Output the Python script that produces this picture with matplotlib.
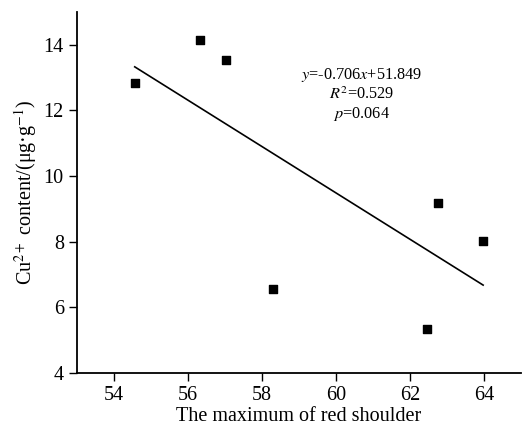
import matplotlib.pyplot as plt
import numpy as np

# data
red_shoulder = [54.56, 56.32, 57.02, 58.29, 62.47, 62.76, 63.98]
cu_content = [12.83, 14.15, 13.54, 6.55, 5.33, 9.18, 8.03]
slope, intercept = -0.706, 51.849
fit_lines = [r'$y$=-0.706$x$+51.849', r'$R^2$=0.529', r'$p$=0.064']
x_ticks = [54, 56, 58, 60, 62, 64]
y_ticks = [4, 6, 8, 10, 12, 14]

plt.rcParams['font.family'] = ['Liberation Serif', 'DejaVu Serif']
plt.rcParams['mathtext.fontset'] = 'stix'

fig = plt.figure(figsize=(5.24, 4.29), dpi=100)
ax = fig.add_axes([0.147, 0.1305, 0.847, 0.8415])

ax.scatter(red_shoulder, cu_content, marker='s', s=40, color='black', zorder=3)
xs = np.array([min(red_shoulder), max(red_shoulder)])
ax.plot(xs, slope * xs + intercept, color='black', lw=1.2)

for i, t in enumerate(fit_lines):
    ax.text(60.69, 13.09 - 0.6 * i, t, ha='center', va='center', fontsize=11.7)

ax.set_xlim(53, 65)
ax.set_ylim(4, 15)
ax.set_xticks(x_ticks)
ax.set_yticks(y_ticks)
ax.tick_params(labelsize=14.5, length=6, width=1, direction='out')
for side in ['top', 'right']:
    ax.spines[side].set_visible(False)
for side in ['left', 'bottom']:
    ax.spines[side].set_linewidth(1.3)

ax.set_xlabel('The maximum of red shoulder', fontsize=14.5, labelpad=1)
ax.set_ylabel(r'Cu$^{2+}$ content/(μg·g$^{-1}$)', fontsize=14.5, labelpad=3)

fig.savefig('out.png', dpi=100)
